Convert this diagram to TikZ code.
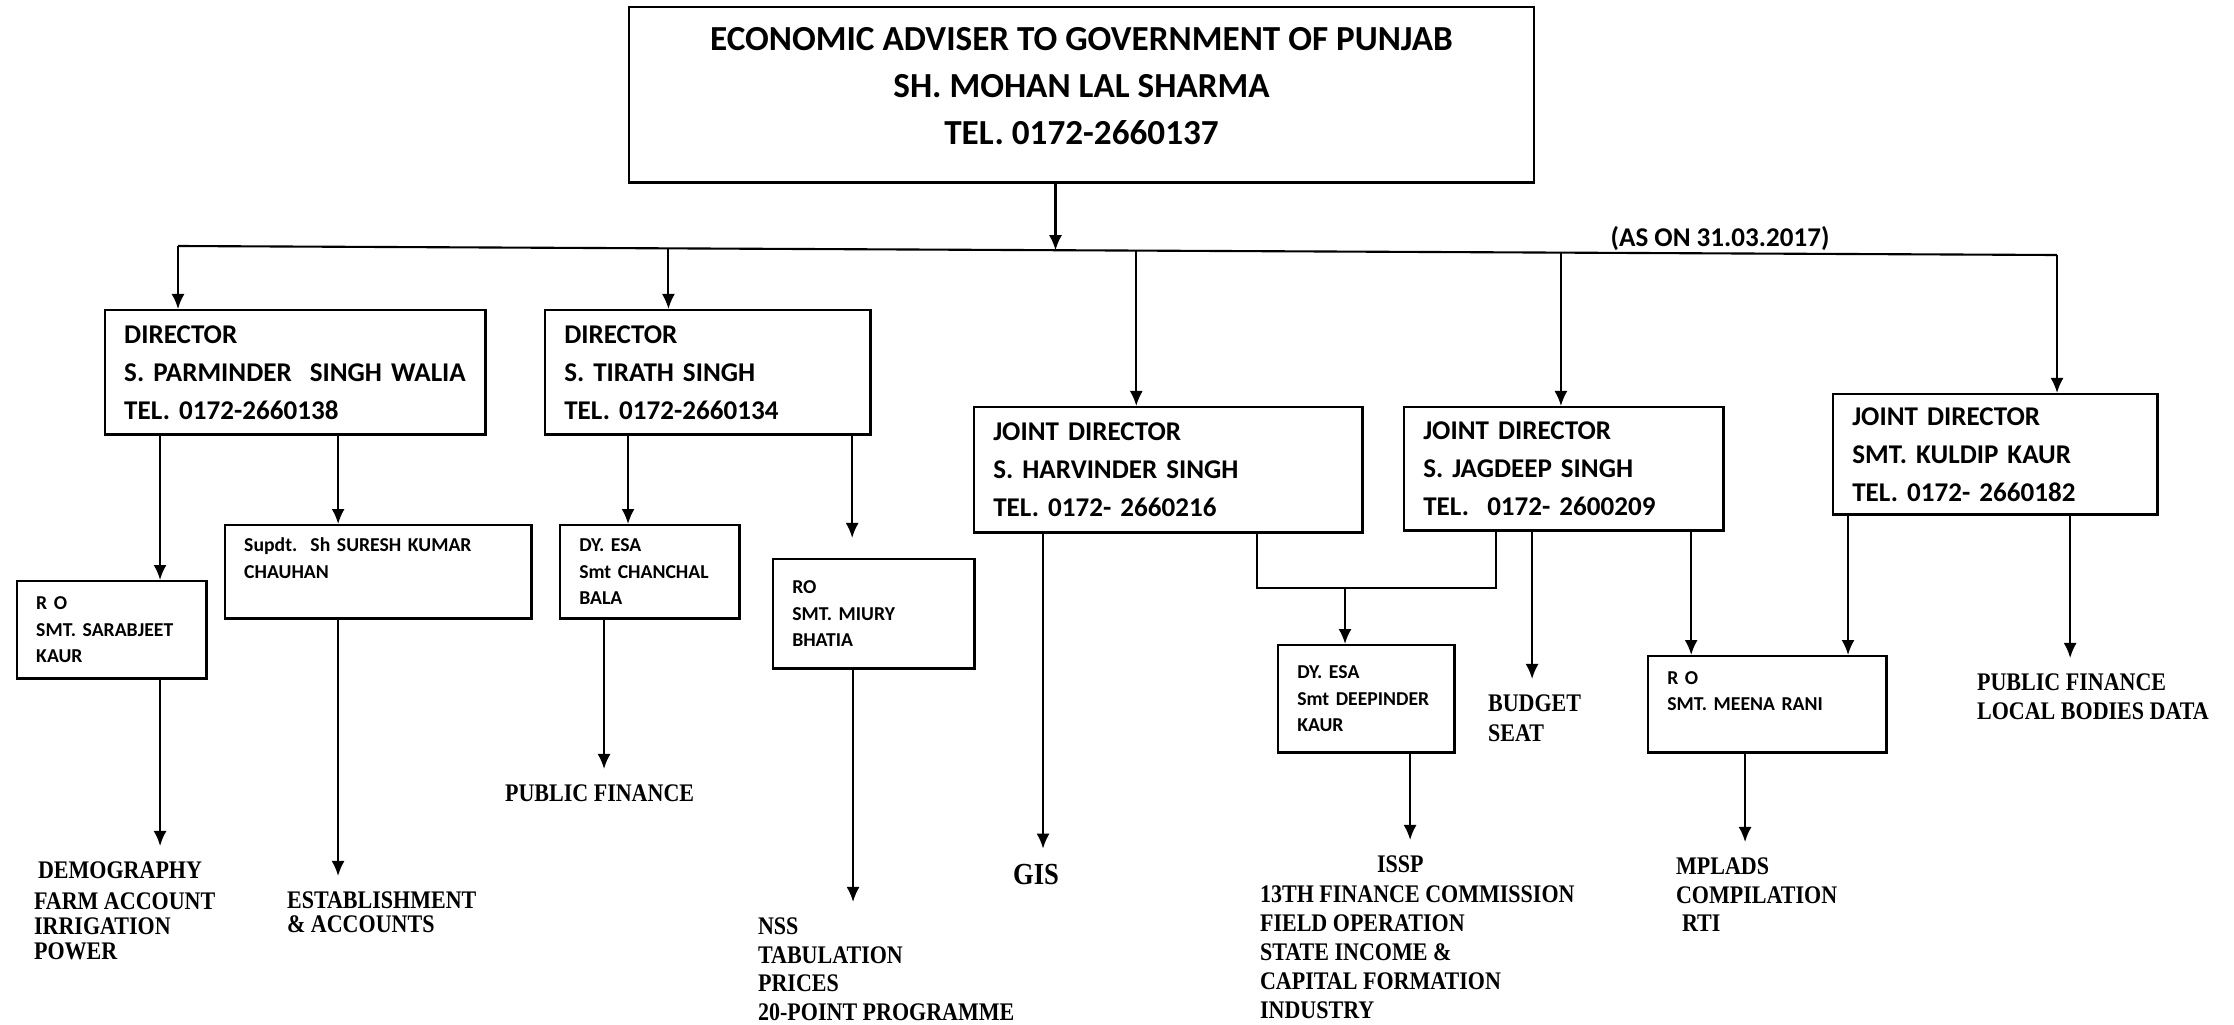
\documentclass[tikz,border=0pt]{standalone}
\usepackage{fontspec}
\setmainfont{Carlito}
\newfontfamily\lblfont[FakeStretch=0.87]{Liberation Serif}
\usetikzlibrary{arrows.meta,calc}

\tikzset{
  box/.style 2 args={draw, line width=0.7pt, anchor=north west, align=left,
    inner xsep=1.9mm, inner ysep=0pt, text width=#1, minimum height=#2},
  bigtxt/.style={font=\bfseries\fontsize{7.7}{10.8}\selectfont},
  smalltxt/.style={font=\bfseries\fontsize{5.6}{7.6}\selectfont},
  lbl/.style={anchor=north west, align=left, inner sep=0pt,
    font=\lblfont\bfseries\fontsize{7.2}{#1}\selectfont},
  lbl/.default=8.1
}

\begin{document}
\begin{tikzpicture}[x=0.01cm, y=-0.01cm, line width=0.6pt, >={Latex[length=1.5mm,width=1.3mm]}]
    \useasboundingbox (0,0) rectangle (2234,1024);

    % Head of the organisation
    \node[draw, line width=0.7pt, anchor=north west, align=center, minimum width=9.04cm,
      minimum height=1.75cm, font=\bfseries\fontsize{10}{13.4}\selectfont] (ea) at (628,6)
      {ECONOMIC ADVISER TO GOVERNMENT OF PUNJAB\\SH. MOHAN LAL SHARMA\\TEL. 0172-2660137\\[-3mm]~};
    \node[font=\bfseries\fontsize{7.7}{9}\selectfont] (asof) at (1720,238) {(AS ON 31.03.2017)};

    % Directors and joint directors
    \node[box={3.42cm}{1.24cm}, bigtxt] (d1) at (104,309) {DIRECTOR\\S. PARMINDER\ \ SINGH WALIA\\TEL. 0172-2660138};
    \node[box={2.87cm}{1.24cm}, bigtxt] (d2) at (544,309) {DIRECTOR\\S. TIRATH SINGH\\TEL. 0172-2660134};
    \node[box={3.50cm}{1.25cm}, bigtxt] (jd1) at (973,406) {JOINT DIRECTOR\\S. HARVINDER SINGH\\TEL. 0172- 2660216};
    \node[box={2.81cm}{1.23cm}, bigtxt] (jd2) at (1403,406) {JOINT DIRECTOR\\S. JAGDEEP SINGH\\TEL.\ \ 0172- 2600209};
    \node[box={2.86cm}{1.20cm}, bigtxt] (jd3) at (1832,393) {JOINT DIRECTOR\\SMT. KULDIP KAUR\\TEL. 0172- 2660182};

    % Officers
    \node[box={1.51cm}{0.97cm}, smalltxt] (ros) at (16,580) {R O\\SMT. SARABJEET\\KAUR};
    \node[box={2.68cm}{0.93cm}, smalltxt] (sup) at (224,524) {Supdt.\ \ Sh SURESH KUMAR\\CHAUHAN\\~};
    \node[box={1.41cm}{0.93cm}, smalltxt] (cb) at (559,524) {DY. ESA\\Smt CHANCHAL\\BALA};
    \node[box={1.63cm}{1.09cm}, smalltxt] (mb) at (772,558) {RO\\SMT. MIURY\\BHATIA};
    \node[box={1.38cm}{1.07cm}, smalltxt] (db) at (1277,644) {DY. ESA\\Smt DEEPINDER\\KAUR};
    \node[box={2.00cm}{0.96cm}, smalltxt] (mr) at (1647,655) {R O\\SMT. MEENA RANI\\~};

    % Subjects
    \node[lbl=7.2] (dem) at (33,861) {\hspace*{0.4mm}DEMOGRAPHY\\[1.4pt]FARM ACCOUNT\\IRRIGATION\\POWER};
    \node[lbl=6.8] (est) at (286,891) {ESTABLISHMENT\\\& ACCOUNTS};
    \node[lbl] (pf) at (504,784) {PUBLIC FINANCE};
    \node[lbl=8.1] (nss) at (757,917) {NSS\\TABULATION\\PRICES\\20-POINT PROGRAMME};
    \node[inner sep=0pt, font=\lblfont\bfseries\fontsize{8.7}{10}\selectfont] (gis) at (1036,875) {GIS};
    \node[lbl=8.3] (issp) at (1259,855) {\hspace*{11.7mm}ISSP\\13TH FINANCE COMMISSION\\FIELD OPERATION\\STATE INCOME \&\\CAPITAL FORMATION\\INDUSTRY};
    \node[lbl=8.5] (bud) at (1487,694) {BUDGET\\SEAT};
    \node[lbl=8.1] (mpl) at (1675,857) {MPLADS\\COMPILATION\\\hspace*{0.6mm}RTI};
    \node[lbl=8.2] (pflb) at (1976,673) {PUBLIC FINANCE\\LOCAL BODIES DATA};

    % Main bar
    \coordinate (bL) at (178,246);
    \coordinate (bR) at (2057,255);
    \coordinate (bT) at ($(bL)!0.467!(bR)$);
    \draw (bL) -- (bR);
    \draw[->] (bT |- ea.south) -- (bT);
    \foreach \f/\t in {0/d1, 0.261/d2, 0.510/jd1, 0.736/jd2, 1/jd3}
      \draw[->] ($(bL)!\f!(bR)$) coordinate (p) -- (p |- \t.north);

    % Box to box
    \foreach \s/\dx/\t in {d1/5.6mm/ros, d1/23.4mm/sup, d2/8.4mm/cb, jd2/28.8mm/mr, jd3/1.6mm/mr}
      \draw[->] ([xshift=\dx]\s.south west) coordinate (p) -- (p |- \t.north);
    \draw[->, shorten >=2mm] ([xshift=30.8mm]d2.south west) coordinate (p) -- (p |- mb.north);

    % Joint link to DY. ESA
    \coordinate (jn) at (1345,588);
    \draw ([xshift=28.4mm]jd1.south west) |- (jn) -| ([xshift=9.3mm]jd2.south west);
    \draw[->] (jn) -- (jn |- db.north);

    % Box to subjects
    \foreach \s/\dx/\t in {ros/14.4mm/dem, sup/11.4mm/est, cb/4.5mm/pf, mb/8.1mm/nss, jd1/7mm/gis,
        jd2/12.9mm/bud, db/13.3mm/issp, jd3/23.8mm/pflb, mr/9.8mm/mpl}
      \draw[->, shorten >=1.5mm] ([xshift=\dx]\s.south west) coordinate (p) -- (p |- \t.north);
\end{tikzpicture}
\end{document}
